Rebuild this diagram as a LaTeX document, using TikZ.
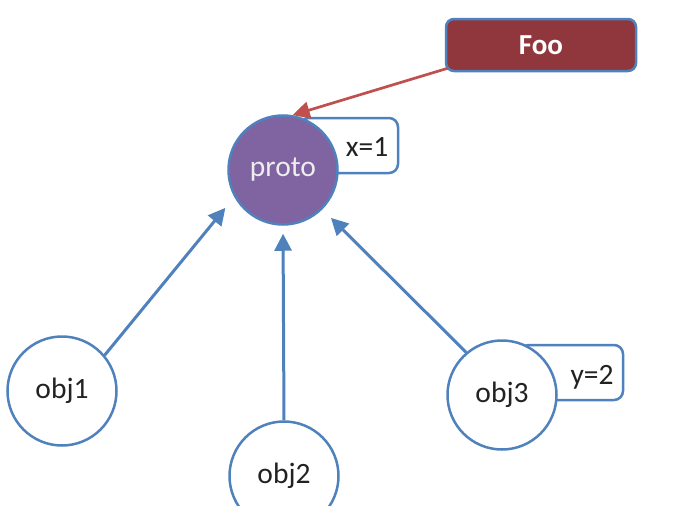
\documentclass[tikz,border=0pt]{standalone}
\usepackage{fontspec}
\setmainfont{Carlito}
\usetikzlibrary{arrows.meta}
\definecolor{bl}{HTML}{4F81BD}
\definecolor{pur}{HTML}{8064A2}
\definecolor{dred}{HTML}{8F373C}
\definecolor{lred}{HTML}{C0504D}
\definecolor{txt}{HTML}{222222}
\begin{document}
\begin{tikzpicture}[x=1pt,y=-1pt,
  big/.style={font=\fontsize{29.5}{35}\selectfont},
  obj/.style={circle,draw=bl,line width=2.5pt,fill=white,minimum size=109pt,inner sep=0pt,text=txt,big},
  tag/.style={draw=bl,line width=2.5pt,fill=white,rounded corners=9pt,inner sep=0pt},
  tagtext/.style={text=txt,big,inner sep=0pt},
  arr/.style={draw=bl,line width=3pt,-{Triangle[length=17pt,width=17pt]}},
  redarr/.style={draw=lred,line width=2.7pt,-{Triangle[length=17pt,width=17pt]}}]
\path[use as bounding box] (0,0) rectangle (689,506);
% tags behind circles
\node[tag,minimum width=98pt,minimum height=55pt] (xbox) at (349,145.5) {};
\node[tagtext] (xlab) at (367,147) {x=1};
\node[tag,minimum width=103pt,minimum height=55pt] (ybox) at (571.5,372.5) {};
\node[tagtext] (ylab) at (592,377) {y=2};
% circles
\node[obj,fill=pur,text=white!93!black] (proto) at (283,170) {proto};
\node[obj] (obj1) at (62,391) {obj1};
\node[obj] (obj2) at (284,476) {obj2};
\node[obj] (obj3) at (502,395) {obj3};
% Foo box
\node[draw=bl,line width=2.5pt,fill=dred,rounded corners=8pt,minimum width=190pt,minimum height=52pt,text=white,font=\fontsize{29}{35}\selectfont\bfseries] (foo) at (541,45) {Foo};
% arrows
\draw[arr,shorten >=14pt] (obj1.40) -- (proto.209);
\draw[arr,shorten >=8pt] (obj2.north) -- (proto.south);
\draw[arr,shorten >=12pt] (obj3.130) -- (proto.315);
\draw[redarr] ([xshift=3pt,yshift=4pt]foo.south west) -- (proto.80);
\end{tikzpicture}
\end{document}
